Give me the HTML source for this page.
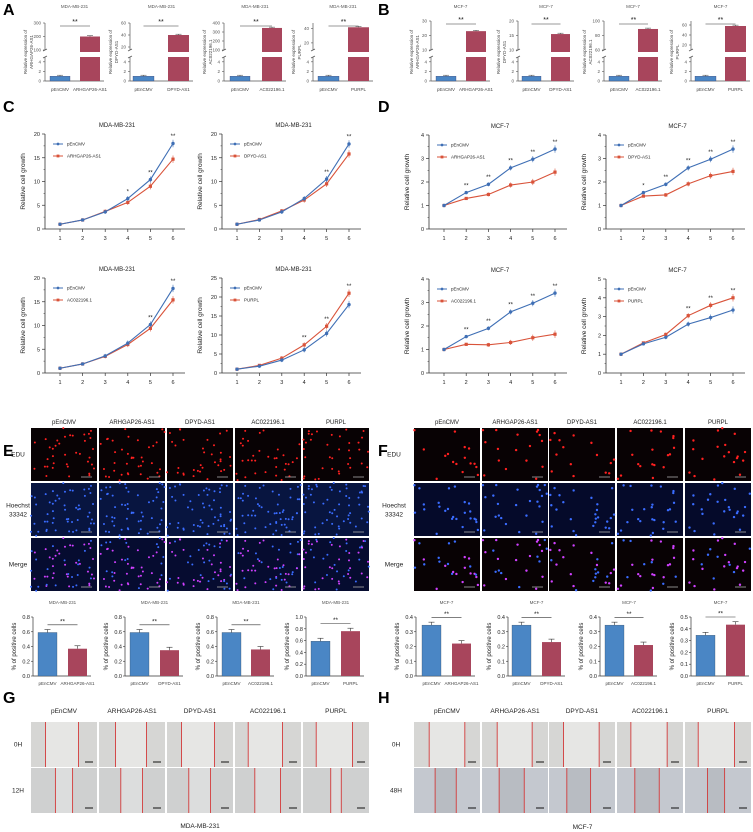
<!DOCTYPE html>
<html><head><meta charset="utf-8">
<style>
html,body{margin:0;padding:0;background:#fff;}
svg{display:block;font-family:"Liberation Sans",sans-serif;}
</style></head>
<body>
<svg id="fig" width="753" height="832" viewBox="0 0 753 832" xmlns="http://www.w3.org/2000/svg"></svg>
<script>
// ---------- data ----------
const barCats=["ARHGAP26-AS1","DPYD-AS1","AC022196.1","PURPL"];
const aCtrl=[1,1,1,1];
const aVals=[200,40,345,42];
const aHi=[300,60,400,48];
const aLo=[100,15,100,10];
const aTicks=[[100,200,300],[20,40,60],[100,200,300,400],[20,40]];
const bCtrl=[1,1,1,1];
const bVals=[23,15.5,89,58];
const bHi=[30,20,100,68];
const bLo=[10,10,60,10];
const bTicks=[[10,20,30],[10,15,20],[60,80,100],[20,40,60]];
const days=[1,2,3,4,5,6];
const cBlue=[[1,1.9,3.6,6.4,10.4,18],[1,1.9,3.6,6.4,10.5,17.9],[1,1.9,3.6,6.3,10.2,17.8],[1,1.8,3.4,6.1,10.4,18]];
const cRed=[[1,1.9,3.7,5.6,9,14.7],[1,2,3.8,6.1,9.5,15.8],[1,1.9,3.5,6,9.4,15.4],[1,2,3.9,7.4,12.3,21]];
const cMax=[20,20,20,25];
const cStars=[["","","","*","**","**"],["","","","","**","**"],["","","","","**","**"],["","","","**","**","**"]];
const dBlue=[[1,1.55,1.9,2.6,2.97,3.4],[1,1.55,1.9,2.6,2.97,3.4],[1,1.55,1.9,2.6,2.97,3.4],[1,1.55,1.9,2.6,2.95,3.35]];
const dRed=[[1,1.3,1.47,1.87,2,2.42],[1,1.4,1.45,1.92,2.27,2.45],[1,1.22,1.2,1.3,1.5,1.65],[1,1.6,2.05,3.05,3.6,4]];
const dMax=[4,4,4,5];
const dStars=[["","**","**","**","**","**"],["","*","**","**","**","**"],["","**","**","**","**","**"],["","","","**","**","**"]];
const eCtrl=[0.59,0.59,0.59,0.59];
const eVals=[0.37,0.35,0.36,0.76];
const eMax=[0.8,0.8,0.8,1.0];
const fCtrl=[0.345,0.345,0.345,0.345];
const fVals=[0.22,0.23,0.21,0.435];
const fMax=[0.4,0.4,0.4,0.5];
const groups=["pEnCMV","ARHGAP26-AS1","DPYD-AS1","AC022196.1","PURPL"];

// ---------- helpers ----------
const svg=document.getElementById('fig');const NS="http://www.w3.org/2000/svg";
function el(tag,attrs,parent){const e=document.createElementNS(NS,tag);for(const k in attrs)e.setAttribute(k,attrs[k]);(parent||svg).appendChild(e);return e;}
function txt(x,y,s,size,anchor,parent,extra){const t=el('text',Object.assign({x:x,y:y,'font-size':size,'text-anchor':anchor||'middle',fill:'#222'},extra||{}),parent);t.textContent=s;return t;}
function line(x1,y1,x2,y2,c,w,parent){return el('line',{x1:x1,y1:y1,x2:x2,y2:y2,stroke:c||'#444','stroke-width':w||0.8},parent);}
let seed=7;function rnd(){seed=(seed*16807)%2147483647;return seed/2147483647;}

// panel letters
[["A",3,15],["B",378,15],["C",3,112],["D",378,112],["E",3,456],["F",378,456],["G",3,703],["H",378,703]].forEach(p=>{
 const t=txt(p[1],p[2],p[0],16,'start',null,{'font-weight':'bold',fill:'#000'});
 
 
});

// ---------- broken-axis bar charts (A,B) ----------
function brokenBar(ax,bx,rx,bw,title,cat,ctrl,val,lo,hi,ticks,ytop,name){
 const g=el('g',{});
 
 
 const y0=81,y5=57,uTop=ytop,uBot=50;
 const yl=v=>y0-(y0-y5)*v/5;
 const yu=v=>uBot-(uBot-uTop)*(v-lo)/(hi-lo);
 txt((ax+rx+bw)/2+2,8,title,4.5,'middle',g,{fill:'#555'});
 line(ax,y5,ax,y0,'#555',0.7,g);line(ax,uBot,ax,uTop,'#555',0.7,g);
 line(ax-2,uBot+1,ax+2,uBot-1,'#555',0.7,g);line(ax-2,y5+1,ax+2,y5-1,'#555',0.7,g);
 line(ax,y0,rx+bw+4,y0,'#555',0.7,g);
 [0,2,4].forEach(v=>{line(ax-2,yl(v),ax,yl(v),'#555',0.6,g);txt(ax-4,yl(v)+1.5,String(v),4.5,'end',g,{fill:'#555'});});
 ticks.forEach(v=>{line(ax-2,yu(v),ax,yu(v),'#555',0.6,g);txt(ax-4,yu(v)+1.5,String(v),4.5,'end',g,{fill:'#555'});});
 const b=el('rect',{x:bx,y:yl(ctrl),width:bw,height:y0-yl(ctrl),fill:'#4a86c5',stroke:'#336',"stroke-width":0.3},g);
 
 
 line(bx+bw/2,yl(ctrl)-1,bx+bw/2,yl(ctrl),'#333',0.5,g);line(bx+bw/2-3,yl(ctrl)-1,bx+bw/2+3,yl(ctrl)-1,'#333',0.5,g);
 const r1=el('rect',{x:rx,y:y5,width:bw,height:y0-y5,fill:'#a8455c'},g);
 
 
 const r2=el('rect',{x:rx,y:yu(val),width:bw,height:uBot+2-yu(val),fill:'#a8455c'},g);
 
 
 const e=(hi-lo)*0.03;line(rx+bw/2,yu(val+e),rx+bw/2,yu(val),'#333',0.5,g);line(rx+bw/2-3,yu(val+e),rx+bw/2+3,yu(val+e),'#333',0.5,g);
 line(bx+bw/2,uTop+3,rx+bw/2,uTop+3,'#333',0.6,g);
 txt((bx+rx+bw)/2,uTop+1,'**',7,'middle',g,{fill:'#111'});
 txt(bx+bw/2,91,'pEnCMV',4.5,'middle',g,{fill:'#444'});
 txt(rx+bw/2,91,cat,4.5,'middle',g,{fill:'#444'});
 const yt=el('text',{x:0,y:0,'font-size':4.5,'text-anchor':'middle',fill:'#444',transform:`translate(${ax-18},52) rotate(-90)`},g);
 yt.textContent='Relative expression of';
 const yt2=el('text',{x:0,y:0,'font-size':4.5,'text-anchor':'middle',fill:'#444',transform:`translate(${ax-12},52) rotate(-90)`},g);
 yt2.textContent=cat;
}
const aPos=[[45,50,80,20],[130,133,168,21],[224,230,262,20],[313,318,348,21]];
const bPos=[[431,436,466,20],[518,522,551,19],[604,609,638,20],[691,695,725,21]];
for(let i=0;i<4;i++){
 brokenBar(aPos[i][0],aPos[i][1],aPos[i][2],aPos[i][3],'MDA-MB-231',barCats[i],aCtrl[i],aVals[i],aLo[i],aHi[i],aTicks[i],23,'expression-chart-a'+(i+1));
 brokenBar(bPos[i][0],bPos[i][1],bPos[i][2],bPos[i][3],'MCF-7',barCats[i],bCtrl[i],bVals[i],bLo[i],bHi[i],bTicks[i],21,'expression-chart-b'+(i+1));
}

// ---------- line charts (C,D) ----------
function lineChart(ax,x1,x6,y0,ytop,ymax,step,title,cat,blue,red,stars,name){
 const g=el('g',{});
 
 
 const xs=d=>x1+(x6-x1)*(d-1)/5;const ys=v=>y0-(y0-ytop)*v/ymax;
 txt((ax+x6)/2+8,ytop-7,title,6,'middle',g);
 line(ax,ytop,ax,y0,'#333',0.8,g);line(ax,y0,x6+12,y0,'#333',0.8,g);
 for(let v=0;v<=ymax+1e-9;v+=step){line(ax-3,ys(v),ax,ys(v),'#333',0.7,g);txt(ax-5,ys(v)+2,String(+v.toFixed(1)),5.5,'end',g);}
 for(let v=step/2;v<ymax;v+=step)line(ax-1.5,ys(v),ax,ys(v),'#333',0.5,g);
 days.forEach(d=>{line(xs(d),y0,xs(d),y0+3,'#333',0.7,g);txt(xs(d),y0+11,String(d),5.5,'middle',g);});
 const yt=el('text',{x:0,y:0,'font-size':6.5,'text-anchor':'middle',fill:'#222',transform:`translate(${ax-20},${(y0+ytop)/2}) rotate(-90)`},g);
 yt.textContent='Relative cell growth';
 [[red,'#d9533a','rect','series-'+cat.toLowerCase().replace(/\./g,'')],[blue,'#3f6fb5','circle','series-pencmv']].forEach(s=>{
  const pl=el('polyline',{points:s[0].map((v,i)=>xs(days[i])+','+ys(v)).join(' '),fill:'none',stroke:s[1],'stroke-width':1.1},g);
  
  
  s[0].forEach((v,i)=>{
   const ev=ymax*0.03*(i/5+0.3);
   line(xs(days[i]),ys(v-ev),xs(days[i]),ys(v+ev),s[1],0.6,g);
   const m=s[2]=='rect'?el('rect',{x:xs(days[i])-1.6,y:ys(v)-1.6,width:3.2,height:3.2,fill:s[1]},g):el('circle',{cx:xs(days[i]),cy:ys(v),r:1.7,fill:s[1]},g);
   
   
  });
 });
 stars.forEach((s,i)=>{if(s)txt(xs(days[i]),ys(Math.max(blue[i],red[i])+ymax*0.045)-1,s,6,'middle',g);});
 const lx=ax+8,ly=ytop+10;
 line(lx,ly,lx+10,ly,'#3f6fb5',1,g);el('circle',{cx:lx+5,cy:ly,r:1.4,fill:'#3f6fb5'},g);txt(lx+14,ly+1.5,'pEnCMV',4.5,'start',g);
 line(lx,ly+12,lx+10,ly+12,'#d9533a',1,g);el('rect',{x:lx+3.6,y:ly+10.6,width:2.8,height:2.8,fill:'#d9533a'},g);txt(lx+14,ly+13.5,cat,4.5,'start',g);
}
const cAx=[[45,60,173],[222,237,349]];const dAx=[[429,444,555],[606,621,733]];
for(let i=0;i<4;i++){
 const col=i%2,row=Math.floor(i/2),off=row*144;
 lineChart(cAx[col][0],cAx[col][1],cAx[col][2],229+off,134+off,cMax[i],5,'MDA-MB-231',barCats[i],cBlue[i],cRed[i],cStars[i],'growth-chart-c'+(i+1));
 lineChart(dAx[col][0],dAx[col][1],dAx[col][2],229+off,135+off,dMax[i],1,'MCF-7',barCats[i],dBlue[i],dRed[i],dStars[i],'growth-chart-d'+(i+1));
}

// ---------- microscopy images (E,F) ----------
function micro(xs,rowsY,h,w,name,labelX,bright){
 const g=el('g',{});
 
 
 groups.forEach((gname,ci)=>{txt(xs[ci]+w/2,424,gname,6,'middle',g);});
 [['EDU'],['Hoechst','33342'],['Merge']].forEach((l,ri)=>{
  l.forEach((s,k)=>txt(labelX,rowsY[ri]+h/2+2+(l.length>1?(k*9-4):0),s,6.5,'middle',g));
 });
 xs.forEach((x,ci)=>{
  const pts=[];const n=bright?55:25;
  for(let k=0;k<n;k++)pts.push([rnd()*w,rnd()*h,rnd()]);
  ['edu','hoechst','merge'].forEach((type,ri)=>{
   const y=rowsY[ri];
   const r=el('rect',{x:x,y:y,width:w,height:h,fill:type=='hoechst'?(bright?'#081540':'#050a2a'):(type=='merge'&&bright?'#060c30':'#080204')},g);
   
   
   pts.forEach(p=>{
    const rad=bright?1:1.2;
    let c= type=='edu'?'#ff2020':type=='hoechst'?'#3a6cff':(p[2]>0.4?'#d040ff':'#3a6cff');
    if(type=='edu'&&p[2]<0.35)return;
    el('circle',{cx:x+p[0],cy:y+p[1],r:rad,fill:c},g);
   });
   line(x+w-16,y+h-4,x+w-5,y+h-4,'#aaa',0.8,g);
  });
 });
}
micro([31,99,167,235,303],[428,483,538],53,66,'edu-image-grid-e',18,true);
micro([414,482,549,617,685],[428,483,538],53,66,'edu-image-grid-f',394,false);

// ---------- positive-cell bars (E,F) ----------
function posBar(ax,bx,rx,bw,title,cat,ctrl,val,ymax,name){
 const g=el('g',{});
 
 
 const y0=676,yt=617;const ys=v=>y0-(y0-yt)*v/ymax;
 txt((bx+rx+bw)/2,604,title,4.5,'middle',g,{fill:'#555'});
 line(ax,yt,ax,y0,'#333',0.7,g);line(ax,y0,rx+bw+4,y0,'#333',0.7,g);
 const st=ymax==0.4||ymax==0.5?0.1:0.2;
 for(let v=0;v<=ymax+1e-9;v+=st){line(ax-2,ys(v),ax,ys(v),'#333',0.6,g);txt(ax-3,ys(v)+2,v.toFixed(1),5.5,'end',g);}
 const b=el('rect',{x:bx,y:ys(ctrl),width:bw,height:y0-ys(ctrl),fill:'#4a86c5',stroke:'#345',"stroke-width":0.3},g);
 
 
 const r=el('rect',{x:rx,y:ys(val),width:bw,height:y0-ys(val),fill:'#a8455c'},g);
 
 
 [[bx,ctrl],[rx,val]].forEach(p=>{const e=ymax*0.05;line(p[0]+bw/2,ys(p[1]),p[0]+bw/2,ys(p[1]+e),'#333',0.6,g);line(p[0]+bw/2-3,ys(p[1]+e),p[0]+bw/2+3,ys(p[1]+e),'#333',0.6,g);});
 const top=Math.max(ctrl,val)+ymax*0.13;
 line(bx+bw/2,ys(top),rx+bw/2,ys(top),'#333',0.6,g);
 txt((bx+rx+bw)/2,ys(top)-1.5,'**',6.5,'middle',g);
 txt(bx+bw/2,685,'pEnCMV',4.5,'middle',g,{fill:'#444'});
 txt(rx+bw/2,685,cat,4.5,'middle',g,{fill:'#444'});
 const ytt=el('text',{x:0,y:0,'font-size':6,'text-anchor':'middle',fill:'#222',transform:`translate(${ax-17},${(y0+yt)/2}) rotate(-90)`},g);
 ytt.textContent='% of positive cells';
}
const ePos=[[33,38,68],[125,130,160],[217,222,251],[306,311,341]];
const fPos=[[416,422,452],[508,512,542],[600,605,634],[691,696,726]];
for(let i=0;i<4;i++){
 posBar(ePos[i][0],ePos[i][1],ePos[i][2],19,'MDA-MB-231',barCats[i],eCtrl[i],eVals[i],eMax[i],'positive-cells-chart-e'+(i+1));
 posBar(fPos[i][0],fPos[i][1],fPos[i][2],19,'MCF-7',barCats[i],fCtrl[i],fVals[i],fMax[i],'positive-cells-chart-f'+(i+1));
}

// ---------- wound healing (G,H) ----------
const gLines0=[[0.22,0.72],[0.25,0.72],[0.22,0.72],[0.2,0.72],[0.2,0.75]];
const gLines1=[[0.37,0.63],[0.33,0.66],[0.33,0.66],[0.3,0.69],[0.42,0.58]];
const hLines0=[[0.23,0.77],[0.23,0.76],[0.22,0.76],[0.21,0.76],[0.2,0.75]];
const hLines1=[[0.32,0.64],[0.26,0.64],[0.27,0.63],[0.27,0.64],[0.34,0.6]];
function wound(xs,rows,w,h,labelX,rowLabels,caption,capY,l0,l1,name,darkGap){
 const g=el('g',{});
 
 
 groups.forEach((gn,ci)=>txt(xs[ci]+w/2,rows[0]-9,gn,6.5,'middle',g));
 rowLabels.forEach((l,ri)=>txt(labelX,rows[ri]+h/2+2,l,6.5,'middle',g));
 xs.forEach((x,ci)=>{
  [l0[ci],l1[ci]].forEach((ls,ri)=>{
   const y=rows[ri];
   const r=el('rect',{x:x,y:y,width:w,height:h,fill:ri==0?'#d6d6d4':(darkGap?'#c4c8cf':'#cfd0d0')},g);
   
   
   el('rect',{x:x+w*ls[0],y:y,width:w*(ls[1]-ls[0]),height:h,fill:ri==0?'#e6e6e4':(darkGap?'#b8bcc2':'#dcdddd')},g);
   ls.forEach(f=>line(x+w*f,y,x+w*f,y+h,'#d23a3a',0.9,g));
   line(x+w-12,y+h-5,x+w-4,y+h-5,'#111',1,g);
  });
 });
 txt((xs[0]+xs[4]+w)/2,capY,caption,6.5,'middle',g);
}
wound([31,99,167,235,303],[722,768],66,45,18,['0H','12H'],'MDA-MB-231',828,gLines0,gLines1,'wound-grid-g',false);
wound([414,482,549,617,685],[722,768],66,45,396,['0H','48H'],'MCF-7',829,hLines0,hLines1,'wound-grid-h',true);
</script>
</body></html>
